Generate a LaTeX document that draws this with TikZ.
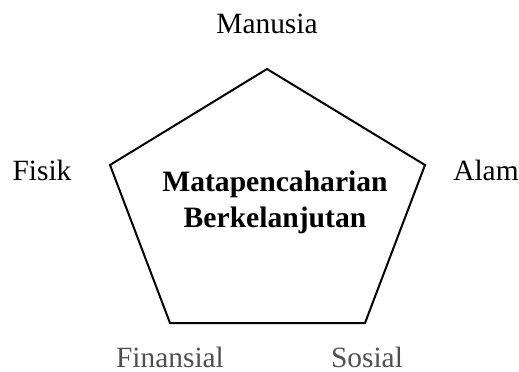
\documentclass[tikz,border=0pt]{standalone}
\usepackage{fontspec}
\setmainfont{Liberation Serif}
\usetikzlibrary{positioning}
\definecolor{labelgray}{RGB}{80,80,80}

\begin{document}
\begin{tikzpicture}[
    x=0.5pt, y=-0.5pt,
    asset/.style={anchor=base, inner sep=0pt, font=\fontsize{14.7}{17}\selectfont},
    assetgray/.style={asset, text=labelgray},
    core/.style={anchor=base, inner sep=0pt, align=center, font=\fontsize{14.8}{18}\selectfont\bfseries}
]

\useasboundingbox (0,0) rectangle (519,371);

% Pentagon corners
\coordinate (top) at (267,69);
\coordinate (right) at (425,165);
\coordinate (botright) at (365,323);
\coordinate (botleft) at (170,323);
\coordinate (left) at (110,165);

% Pentagon
\draw[line width=1pt, line join=miter] (top) -- (right) -- (botright) -- (botleft) -- (left) -- cycle;

% Centre text
\node[core] (center) at (275,227) {Matapencaharian\\Berkelanjutan};

% Asset labels
\node[asset] (manusia) at (267,33) {Manusia};
\node[asset] (fisik) at (42,180) {Fisik};
\node[asset] (alam) at (486,180) {Alam};
\node[assetgray] (finansial) at (170,367) {Finansial};
\node[assetgray] (sosial) at (367,367) {Sosial};

\end{tikzpicture}
\end{document}
